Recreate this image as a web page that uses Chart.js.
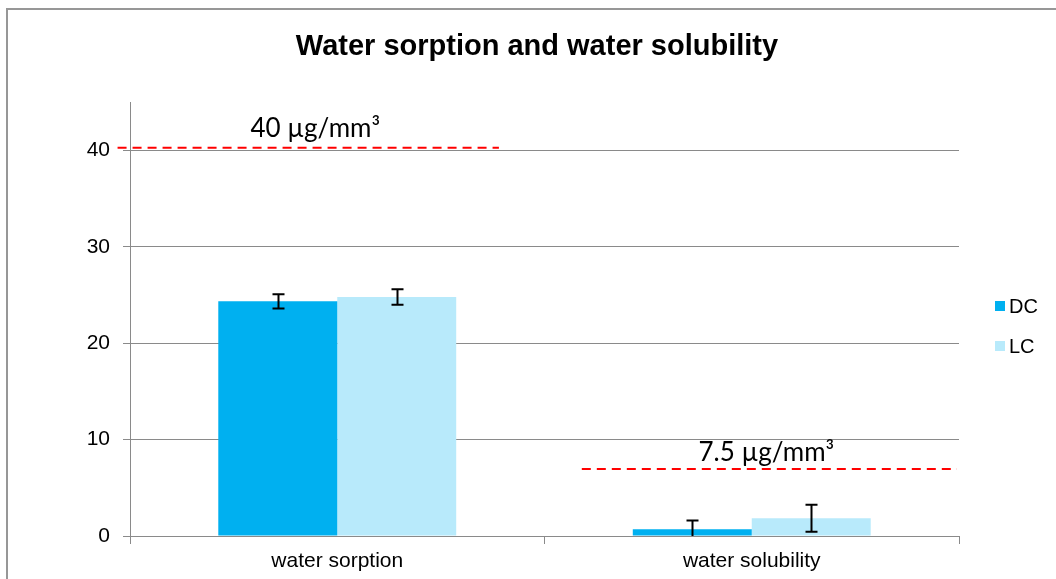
<!DOCTYPE html>
<html>
<head>
<meta charset="utf-8">
<script src="https://cdn.jsdelivr.net/npm/chart.js@4.4.2/dist/chart.umd.min.js"></script>
<style>
  html, body { margin: 0; padding: 0; background: #fff; }
  #wrap { position: relative; width: 1056px; height: 579px; }
</style>
</head>
<body>
<div id="wrap"><canvas id="chart"></canvas></div>
<script>
// Water sorption / solubility — DC vs LC with error bars and limit lines
const categories = ['water sorption', 'water solubility'];
const seriesNames = ['DC', 'LC'];
const dcValues = [24.35, 0.7];
const lcValues = [24.8, 1.85];
const dcErrors = [0.75, 0.9];
const lcErrors = [0.8, 1.4];
const limitValues = [40.3, 6.95];
const limitLabels = ['40 µg/mm³', '7.5 µg/mm³'];
const yTicks = [0, 10, 20, 30, 40];
const chartTitle = 'Water sorption and water solubility';

const COLORS = ['#00B0F0', '#B8EAFB'];
const GRID = '#8a8a8a';

// white background, partial frame and centred title
const framePlugin = {
  id: 'frame',
  beforeDraw(chart) {
    const { ctx, width, height } = chart;
    ctx.save();
    ctx.fillStyle = '#fff';
    ctx.fillRect(0, 0, width, height);
    ctx.strokeStyle = '#979797';
    ctx.lineWidth = 2;
    ctx.beginPath();
    ctx.moveTo(7, height);
    ctx.lineTo(7, 9);
    ctx.lineTo(width, 9);
    ctx.stroke();
    ctx.fillStyle = '#000';
    ctx.font = 'bold 29px Arial, "Liberation Sans", sans-serif';
    ctx.textAlign = 'center';
    ctx.textBaseline = 'alphabetic';
    ctx.fillText(chartTitle, 537, 55);
    ctx.restore();
  },
};

// error bars for each bar
const errorPlugin = {
  id: 'errorBars',
  afterDatasetsDraw(chart) {
    const { ctx } = chart;
    const y = chart.scales.y;
    const errs = [dcErrors, lcErrors];
    ctx.save();
    ctx.strokeStyle = '#000';
    ctx.lineWidth = 2;
    chart.data.datasets.forEach((ds, di) => {
      chart.getDatasetMeta(di).data.forEach((bar, i) => {
        const v = ds.data[i], e = errs[di][i];
        const top = y.getPixelForValue(v + e);
        const bot = y.getPixelForValue(Math.max(0, v - e));
        const x = Math.round(bar.x) + 0.5;
        ctx.beginPath();
        ctx.moveTo(x, top); ctx.lineTo(x, bot);
        ctx.moveTo(x - 6, top); ctx.lineTo(x + 6, top);
        if (v - e > 0) { ctx.moveTo(x - 6, bot); ctx.lineTo(x + 6, bot); }
        ctx.stroke();
      });
    });
    ctx.restore();
  },
};

// red dashed limit lines with labels
const limitPlugin = {
  id: 'limits',
  afterDatasetsDraw(chart, args, opts) {
    const { ctx } = chart;
    const { x, y } = chart.scales;
    ctx.save();
    limitValues.forEach((v, i) => {
      const py = y.getPixelForValue(v);
      const x0 = x.getPixelForValue(opts.from[i]);
      const x1 = x.getPixelForValue(opts.to[i]);
      ctx.strokeStyle = '#FF0000';
      ctx.lineWidth = 2;
      ctx.setLineDash([9, 6]);
      ctx.beginPath();
      ctx.moveTo(x0, py); ctx.lineTo(x1, py);
      ctx.stroke();
      ctx.setLineDash([]);
      ctx.fillStyle = '#000';
      ctx.font = '26px Lato, "Open Sans", sans-serif';
      ctx.textAlign = 'center';
      ctx.textBaseline = 'alphabetic';
      ctx.fillText(limitLabels[i], (x0 + x1) / 2 + opts.dx[i], py - opts.gap[i]);
    });
    ctx.restore();
  },
};

// legend at right, drawn by hand
const legendPlugin = {
  id: 'sideLegend',
  afterDraw(chart) {
    const { ctx } = chart;
    ctx.save();
    ctx.font = '20px Arial, "Liberation Sans", sans-serif';
    ctx.textBaseline = 'middle';
    ctx.textAlign = 'left';
    chart.data.datasets.forEach((ds, i) => {
      const cy = 306 + i * 40;
      ctx.fillStyle = ds.backgroundColor;
      ctx.fillRect(995, cy - 5, 10, 10);
      ctx.fillStyle = '#000';
      ctx.fillText(ds.label, 1009, cy + 1);
    });
    ctx.restore();
  },
};

new Chart(document.getElementById('chart'), {
  type: 'bar',
  data: {
    labels: categories,
    datasets: [
      { label: seriesNames[0], data: dcValues, backgroundColor: COLORS[0] },
      { label: seriesNames[1], data: lcValues, backgroundColor: COLORS[1] },
    ],
  },
  options: {
    responsive: true, maintainAspectRatio: false, animation: false,
    barPercentage: 1, categoryPercentage: 0.574,
    layout: { padding: { left: 0, right: 97, top: 102.4, bottom: 0 } },
    plugins: {
      legend: { display: false },
      tooltip: { enabled: false },
      title: { display: false },
      limits: { from: [-0.53, 0.59], to: [0.39, 1.495], dx: [7, -3], gap: [11, 8] },
    },
    scales: {
      x: {
        grid: { display: true, drawOnChartArea: false, drawTicks: true, tickLength: 8, color: GRID, offset: true },
        border: { display: true, color: GRID, width: 1 },
        ticks: { color: '#000', padding: 5, font: { family: 'Arial, "Liberation Sans", sans-serif', size: 21 } },
        afterFit: s => { s.height = 43; },
      },
      y: {
        min: 0, max: 45,
        afterBuildTicks: s => { s.ticks = yTicks.concat([45]).map(v => ({ value: v })); },
        grid: {
          color: c => (c.tick && c.tick.value === 45 ? 'rgba(0,0,0,0)' : GRID),
          tickLength: 7,
        },
        border: { display: true, color: GRID, width: 1 },
        ticks: {
          color: '#000', padding: 13,
          font: { family: 'Arial, "Liberation Sans", sans-serif', size: 21 },
          callback: v => (v === 45 ? '' : v),
        },
        afterFit: s => { s.width = 130; },
      },
    },
  },
  plugins: [framePlugin, errorPlugin, limitPlugin, legendPlugin],
});
</script>
</body>
</html>
